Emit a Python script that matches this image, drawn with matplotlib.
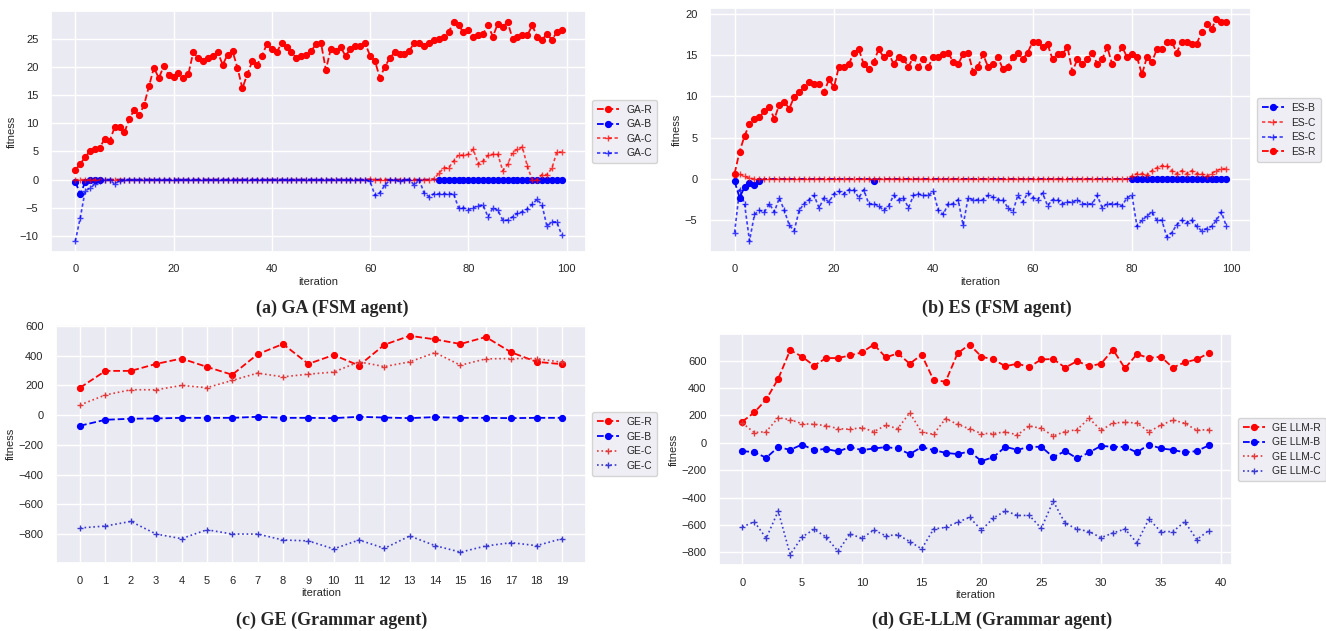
import matplotlib
matplotlib.use('Agg')
import matplotlib.pyplot as plt
import seaborn as sns

sns.set_theme(style='darkgrid')
plt.rcParams['font.family'] = ['Liberation Sans', 'DejaVu Sans']

# ---- (a) GA (FSM agent), 100 iterations ----
ga_r = [1.7, 2.8, 4.0, 5.1, 5.4, 5.7, 7.3, 6.9, 9.3, 9.3,
        8.4, 10.8, 12.4, 11.4, 13.3, 16.6, 19.9, 18.0, 20.2, 18.6,
        18.3, 18.9, 18.0, 18.7, 22.6, 21.6, 21.0, 21.6, 22.0, 22.6,
        20.4, 22.2, 22.8, 19.9, 16.2, 18.7, 21.0, 20.4, 22.0, 24.1,
        23.2, 22.6, 24.3, 23.5, 22.6, 21.6, 22.0, 22.2, 22.8, 24.1,
        24.3, 19.5, 23.2, 22.9, 23.5, 22.0, 23.2, 23.8, 23.8, 24.2,
        22.0, 21.0, 18.1, 20.0, 21.6, 22.6, 22.3, 22.3, 22.9, 24.3,
        24.3, 23.8, 24.2, 24.8, 25.0, 25.4, 26.2, 28.0, 27.4, 26.2,
        26.5, 25.4, 25.6, 25.9, 27.4, 25.4, 27.7, 27.1, 28.0, 25.0,
        25.4, 25.6, 25.6, 27.4, 25.4, 24.8, 25.9, 24.8, 26.2, 26.5]
ga_b = [-0.4, -2.5, -0.5, 0, 0, -0.1, 0, 0, 0, 0,
        0, 0, 0, 0, 0, 0, 0, 0, 0, 0,
        0, 0, 0, 0, 0, 0, 0, 0, 0, 0,
        0, 0, 0, 0, 0, 0, 0, 0, 0, 0,
        0, 0, 0, 0, 0, 0, 0, 0, 0, 0,
        0, 0, 0, 0, 0, 0, 0, 0, 0, 0,
        0, 0, 0, 0, 0, 0, 0, 0, 0, 0,
        0, 0, 0, 0, 0, 0, 0, 0, 0, 0,
        0, 0, 0, 0, 0, 0, 0, 0, 0, 0,
        0, 0, 0, 0, 0, 0, 0, 0, 0, 0]
ga_c_red = [0, 0, 0, 0, 0, 0, 0, 0, 0, 0,
            0, 0, 0, 0, 0, 0, 0, 0, 0, 0,
            0, 0, 0, 0, 0, 0, 0, 0, 0, 0,
            0, 0, 0, 0, 0, 0, 0, 0, 0, 0,
            0, 0, 0, 0, 0, 0, 0, 0, 0, 0,
            0, 0, 0, 0, 0, 0, 0, 0, 0, 0,
            0.1, 0, 0, 0, 0, 0, 0, 0, 0, 0,
            0, 0, 0, 0.2, 1.1, 2.1, 2.1, 3.3, 4.4, 4.3,
            4.5, 5.4, 2.8, 3.3, 4.3, 4.5, 4.5, 1.6, 2.7, 4.8,
            5.4, 5.8, 2.4, 0, 0, 0.9, 0.9, 2.0, 4.9, 4.9]
ga_c_blue = [-10.9, -6.8, -2.0, -1.5, -0.8, -0.3, 0, 0, -0.8, -0.2,
             0, 0, 0, 0, 0, 0, 0, 0, 0, 0,
             0, 0, 0, 0, 0, 0, 0, 0, 0, 0,
             0, 0, 0, 0, 0, 0, 0, 0, 0, 0,
             0, 0, 0, 0, 0, 0, 0, 0, 0, 0,
             0, 0, 0, 0, 0, 0, 0, 0, 0, 0,
             -0.3, -2.8, -2.3, -1.0, -0.1, 0, -0.3, 0, 0, -1.0,
             0, -2.4, -3.0, -2.5, -2.5, -2.5, -2.5, -2.5, -5.0, -5.0,
             -5.3, -5.0, -4.6, -4.5, -6.6, -5.0, -5.4, -7.2, -7.2, -6.6,
             -6.0, -5.7, -5.2, -4.4, -3.5, -4.5, -8.3, -7.5, -7.5, -9.8]

# ---- (b) ES (FSM agent), 100 iterations ----
es_r = [0.65, 3.3, 5.2, 6.65, 7.25, 7.5, 8.2, 8.75, 7.25, 9.0,
        9.35, 8.5, 9.95, 10.5, 11.1, 11.7, 11.5, 11.5, 10.5, 12.05,
        11.1, 13.6, 13.6, 13.9, 15.3, 15.7, 13.9, 13.3, 14.15, 15.7,
        14.75, 15.3, 13.9, 14.75, 14.5, 13.6, 14.75, 13.6, 14.5, 13.6,
        14.75, 14.75, 15.1, 15.3, 14.15, 13.9, 15.1, 15.3, 13.0, 13.6,
        15.1, 13.6, 13.9, 14.75, 13.3, 13.6, 14.75, 15.3, 14.5, 15.3,
        16.6, 16.6, 16.0, 16.3, 14.5, 15.1, 15.1, 16.0, 13.0, 14.5,
        13.9, 14.5, 15.3, 13.9, 14.5, 16.0, 13.9, 14.75, 16.0, 14.75,
        15.1, 14.75, 12.65, 14.75, 14.15, 15.7, 15.7, 16.6, 16.6, 15.3,
        16.6, 16.6, 16.3, 16.3, 17.8, 18.75, 18.15, 19.35, 19.0, 19.0]
es_b = [-0.3, -2.25, -1.0, -0.5, -0.75, -0.3, 0, 0, 0, 0,
        0, 0, 0, 0, 0, 0, 0, 0, 0, 0,
        0, 0, 0, 0, 0, 0, 0, 0, -0.2, 0,
        0, 0, 0, 0, 0, 0, 0, 0, 0, 0,
        0, 0, 0, 0, 0, 0, 0, 0, 0, 0,
        0, 0, 0, 0, 0, 0, 0, 0, 0, 0,
        0, 0, 0, 0, 0, 0, 0, 0, 0, 0,
        0, 0, 0, 0, 0, 0, 0, 0, 0, 0,
        0, 0, 0, 0, 0, 0, 0, 0, 0, 0,
        0, 0, 0, 0, 0, 0, 0, 0, 0, 0]
es_c_red = [0.5, 0.6, 0.3, 0.1, 0, 0, 0, 0, 0, 0,
            0, 0, 0, 0, 0, 0, 0, 0, 0, 0,
            0, 0, 0, 0, 0, 0, 0, 0, 0, 0,
            0, 0, 0, 0, 0, 0, 0, 0, 0, 0,
            0, 0, 0, 0, 0, 0, 0, 0, 0, 0,
            0, 0, 0, 0, 0, 0, 0, 0, 0, 0,
            0, 0, 0, 0, 0, 0, 0, 0, 0, 0,
            0, 0, 0, 0, 0, 0, 0, 0, 0, 0,
            0.35, 0.65, 0.65, 0.45, 1.0, 1.35, 1.6, 1.6, 1.0, 0.65,
            1.0, 0.65, 1.0, 0.65, 0.65, 0.35, 0.65, 1.0, 1.25, 1.25]
es_c_blue = [-6.5, -1.3, -3.0, -7.5, -4.3, -3.8, -4.0, -3.0, -4.0, -2.3,
             -3.8, -5.6, -6.25, -3.8, -3.0, -2.5, -2.0, -3.5, -2.3, -2.8,
             -1.8, -1.5, -1.8, -1.3, -1.3, -2.3, -1.3, -3.0, -3.0, -3.25,
             -3.8, -3.25, -2.0, -2.5, -2.3, -3.5, -2.0, -1.8, -2.0, -2.0,
             -1.5, -3.8, -4.3, -3.0, -3.0, -2.5, -5.6, -2.3, -2.5, -2.5,
             -2.5, -2.0, -2.2, -2.5, -2.5, -3.5, -4.0, -2.0, -2.8, -1.7,
             -2.25, -2.5, -1.7, -3.25, -2.5, -2.5, -3.0, -2.8, -2.8, -2.5,
             -3.0, -3.0, -3.0, -2.0, -3.5, -3.0, -3.0, -3.0, -3.25, -2.25,
             -2.0, -5.75, -5.0, -4.5, -4.0, -5.0, -5.0, -7.0, -6.5, -5.55,
             -5.0, -5.3, -5.0, -5.75, -6.25, -6.0, -5.75, -5.0, -4.0, -5.75]

# ---- (c) GE (Grammar agent), 20 iterations ----
ge_r = [185, 298, 298, 345, 381, 325, 272, 410, 479, 345,
        405, 334, 474, 534, 510, 479, 526, 423, 359, 343]
ge_b = [-71, -31, -24, -22, -18, -18, -18, -11, -18, -18,
        -20, -11, -16, -20, -13, -18, -18, -20, -18, -18]
ge_c_red = [69, 136, 171, 171, 200, 185, 234, 283, 258, 276,
            290, 359, 327, 359, 421, 336, 379, 381, 381, 356]
ge_c_blue = [-759, -746, -715, -800, -831, -771, -800, -800, -840, -846,
             -900, -840, -896, -813, -878, -922, -880, -858, -878, -831]

# ---- (d) GE-LLM (Grammar agent), 40 iterations ----
llm_r = [155, 222, 317, 467, 677, 629, 563, 619, 619, 638,
         660, 718, 624, 653, 578, 643, 457, 447, 653, 718,
         629, 609, 559, 578, 554, 609, 612, 549, 597, 559,
         578, 680, 544, 648, 619, 629, 549, 588, 609, 655]
llm_b = [-60, -68, -109, -31, -51, -12, -53, -44, -63, -31,
         -53, -41, -31, -41, -82, -31, -53, -73, -82, -63,
         -133, -104, -29, -51, -29, -29, -104, -60, -114, -70,
         -22, -29, -29, -70, -12, -41, -51, -70, -60, -19]
llm_c_red = [145, 75, 82, 184, 169, 140, 135, 126, 104, 99,
             111, 82, 128, 104, 220, 77, 63, 177, 135, 102,
             68, 68, 80, 58, 123, 106, 51, 82, 97, 179,
             92, 145, 150, 145, 82, 128, 167, 143, 92, 97]
llm_c_blue = [-614, -576, -696, -498, -815, -687, -631, -687, -791, -665,
              -696, -636, -679, -670, -721, -774, -629, -617, -580, -544,
              -636, -549, -496, -530, -530, -624, -426, -588, -629, -648,
              -692, -658, -629, -730, -556, -648, -648, -576, -706, -641]

W, H = 1326, 631
fig = plt.figure(figsize=(W / 100, H / 100), dpi=100)


def box(l, t, r, b):
    return [l / W, 1 - b / H, (r - l) / W, (b - t) / H]


FS = 8
LFS = 7.4
ms_dot = 4.2
ms_plus = 5
C_DASH = (0, (2, 1.5))


def style(ax, width_px):
    ax.set_xlabel('iteration', fontsize=FS, labelpad=2)
    ax.set_ylabel('fitness', fontsize=FS, labelpad=2)
    ax.tick_params(labelsize=FS, pad=3)
    ax.legend(loc='center left', bbox_to_anchor=(1 + 6 / width_px, 0.5), borderaxespad=0,
              fontsize=LFS, handlelength=2.2, handletextpad=0.7, labelspacing=0.45, borderpad=0.45)


# in the top panels the blue dots on the zero line are hidden under the "+" marks
ga_b_shown = [0, 1, 2, 3, 4, 5] + list(range(74, 100))
es_b_shown = [0, 1, 2, 3, 4, 5, 28] + list(range(80, 100))

# (a)
ax = fig.add_axes(box(51, 11, 586, 252))
it = list(range(len(ga_r)))
ax.plot(it, ga_r, '--', color='red', marker='o', ms=ms_dot, lw=1.3, label='GA-R')
ax.plot(it, ga_b, '--', color='blue', marker='o', ms=ms_dot, lw=1.3, markevery=ga_b_shown, label='GA-B')
ax.plot(it, ga_c_red, color='red', ls=C_DASH, marker='+', ms=ms_plus, lw=1.2, alpha=0.75, label='GA-C')
ax.plot(it, ga_c_blue, color='blue', ls=C_DASH, marker='+', ms=ms_plus, lw=1.2, alpha=0.75, label='GA-C')
ax.set_yticks([-10, -5, 0, 5, 10, 15, 20, 25])
style(ax, 535)

# (b)
ax = fig.add_axes(box(710, 8, 1251, 252))
it = list(range(len(es_r)))
ax.plot(it, es_b, '--', color='blue', marker='o', ms=ms_dot, lw=1.3, markevery=es_b_shown, label='ES-B')
ax.plot(it, es_c_red, color='red', ls=C_DASH, marker='+', ms=ms_plus, lw=1.2, alpha=0.75, label='ES-C')
ax.plot(it, es_c_blue, color='blue', ls=C_DASH, marker='+', ms=ms_plus, lw=1.2, alpha=0.75, label='ES-C')
ax.plot(it, es_r, '--', color='red', marker='o', ms=ms_dot, lw=1.3, label='ES-R')
ax.set_yticks([-5, 0, 5, 10, 15, 20])
style(ax, 541)

# (c)
ax = fig.add_axes(box(56, 325, 586, 563))
it = list(range(len(ge_r)))
ax.plot(it, ge_r, '--', color='red', marker='o', ms=ms_dot, lw=1.3, label='GE-R')
ax.plot(it, ge_b, '--', color='blue', marker='o', ms=ms_dot, lw=1.3, label='GE-B')
ax.plot(it, ge_c_red, ':', color='#e03a3a', marker='+', ms=ms_plus, lw=1.2, label='GE-C')
ax.plot(it, ge_c_blue, ':', color='#3a3ad0', marker='+', ms=ms_plus, lw=1.2, label='GE-C')
ax.set_xticks(it)
ax.set_yticks([-800, -600, -400, -200, 0, 200, 400, 600])
style(ax, 530)

# (d)
ax = fig.add_axes(box(719, 334, 1232, 565))
it = list(range(len(llm_r)))
ax.plot(it, llm_r, '--', color='red', marker='o', ms=ms_dot, lw=1.3, label='GE LLM-R')
ax.plot(it, llm_b, '--', color='blue', marker='o', ms=ms_dot, lw=1.3, label='GE LLM-B')
ax.plot(it, llm_c_red, ':', color='#e03a3a', marker='+', ms=ms_plus, lw=1.2, label='GE LLM-C')
ax.plot(it, llm_c_blue, ':', color='#3a3ad0', marker='+', ms=ms_plus, lw=1.2, label='GE LLM-C')
ax.set_xticks([0, 5, 10, 15, 20, 25, 30, 35, 40])
ax.set_yticks([-800, -600, -400, -200, 0, 200, 400, 600])
style(ax, 513)

# captions
cap = dict(fontsize=13, fontweight='bold', family=['Liberation Serif', 'DejaVu Serif'],
           ha='center', va='center')
fig.text(332 / W, 1 - 308 / H, '(a) GA (FSM agent)', **cap)
fig.text(997 / W, 1 - 308 / H, '(b) ES (FSM agent)', **cap)
fig.text(332 / W, 1 - 620 / H, '(c) GE (Grammar agent)', **cap)
fig.text(992 / W, 1 - 620 / H, '(d) GE-LLM (Grammar agent)', **cap)

fig.savefig('out.png', dpi=100)
